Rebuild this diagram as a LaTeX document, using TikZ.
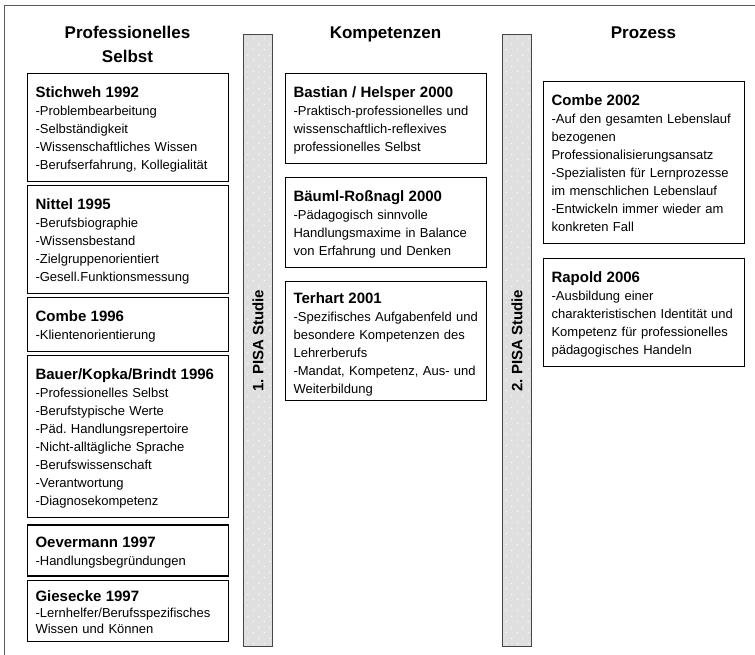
\documentclass[tikz,border=0pt]{standalone}
\usepackage{fontspec}
\setmainfont{Liberation Sans}
\usetikzlibrary{positioning,patterns}
\frenchspacing

\pgfdeclarepatternformonly{bardots}{\pgfqpoint{-1pt}{-1pt}}{\pgfqpoint{10pt}{10pt}}{\pgfqpoint{11pt}{11pt}}{%
	\pgfpathrectangle{\pgfqpoint{0pt}{0pt}}{\pgfqpoint{1.2pt}{1.2pt}}%
	\pgfpathrectangle{\pgfqpoint{5.5pt}{5.5pt}}{\pgfqpoint{1.2pt}{1.2pt}}%
	\pgfusepath{fill}}

\newcommand{\lithead}[1]{{\fontsize{15}{18}\selectfont\bfseries #1}}

\begin{document}
\begin{tikzpicture}[x=1pt, y=-1pt,
	every node/.style={font=\fontsize{13}{18}\selectfont},
	lit depth/.store in=\litdepth, lit depth=12pt,
	lit/.style={draw, line width=1.1pt, anchor=north west, text width=185pt, inner xsep=8pt, inner ysep=0pt, align=left, text height=24pt, execute at end node={\rule[-\litdepth]{0pt}{\litdepth}}},
	litshort/.style={lit, text height=22pt, lit depth=7pt},
	littight/.style={lit, text height=21pt, lit depth=8pt, font=\fontsize{13}{16}\selectfont},
	coltitle/.style={anchor=base, align=center, inner sep=0pt, font=\fontsize{17}{24}\selectfont\bfseries},
	bar/.style={draw=gray!55!black, line width=1pt, preaction={fill=gray!25}, pattern=bardots, pattern color=gray!6, minimum width=611pt, minimum height=29pt, inner sep=0pt, font=\fontsize{15}{18}\selectfont\bfseries}]
	\useasboundingbox (0,0) rectangle (755,655);
	\draw[line width=0.8pt, gray!70!black] (4.5,655) |- (755,5);

	\node[coltitle] (tselbst) at (127.5,63) {Professionelles\\Selbst};
	\node[coltitle] (tkomp) at (385.5,39) {Kompetenzen};
	\node[coltitle] (tproz) at (643.5,39) {Prozess};

	\node[lit] (stichweh) at (27,73) {\lithead{Stichweh 1992}\\-Problembearbeitung\\-Selbständigkeit\\-Wissenschaftliches Wissen\\-Berufserfahrung, Kollegialität};
	\node[lit, below=3pt of stichweh] (nittel) {\lithead{Nittel 1995}\\-Berufsbiographie\\-Wissensbestand\\-Zielgruppenorientiert\\-Gesell.Funktionsmessung};
	\node[lit, below=3pt of nittel] (combeA) {\lithead{Combe 1996}\\-Klientenorientierung};
	\node[lit, below=3pt of combeA] (bauer) {\lithead{Bauer/Kopka/Brindt 1996}\\-Professionelles Selbst\\-Berufstypische Werte\\-Päd. Handlungsrepertoire\\-Nicht-alltägliche Sprache\\-Berufswissenschaft\\-Verantwortung\\-Diagnosekompetenz};
	\node[lit, text height=23pt, lit depth=10pt, below=6pt of bauer] (oevermann) {\lithead{Oevermann 1997}\\-Handlungsbegründungen};
	\node[littight, below=3pt of oevermann] (giesecke) {\lithead{Giesecke 1997}\\-Lernhelfer/Berufsspezifisches\\Wissen und Können};

	\node[lit] (bastian) at (285,73) {\lithead{Bastian / Helsper 2000}\\-Praktisch-professionelles und\\wissenschaftlich-reflexives\\professionelles Selbst};
	\node[lit, below=13pt of bastian] (baeuml) {\lithead{Bäuml-Roßnagl 2000}\\-Pädagogisch sinnvolle\\Handlungsmaxime in Balance\\von Erfahrung und Denken};
	\node[litshort, below=13pt of baeuml] (terhart) {\lithead{Terhart 2001}\\-Spezifisches Aufgabenfeld und\\besondere Kompetenzen des\\Lehrerberufs\\-Mandat, Kompetenz, Aus- und\\Weiterbildung};

	\node[lit] (combeB) at (543,81) {\lithead{Combe 2002}\\-Auf den gesamten Lebenslauf\\bezogenen\\Professionalisierungsansatz\\-Spezialisten für Lernprozesse\\im menschlichen Lebenslauf\\-Entwickeln immer wieder am\\konkreten Fall};
	\node[lit, below=14pt of combeB] (rapold) {\lithead{Rapold 2006}\\-Ausbildung einer\\charakteristischen Identität und\\Kompetenz für professionelles\\pädagogisches Handeln};

	\node[bar, rotate=90] (pisaA) at (258,340.5) {1. PISA Studie};
	\node[bar, rotate=90] (pisaB) at (517,340.5) {2. PISA Studie};
\end{tikzpicture}
\end{document}
